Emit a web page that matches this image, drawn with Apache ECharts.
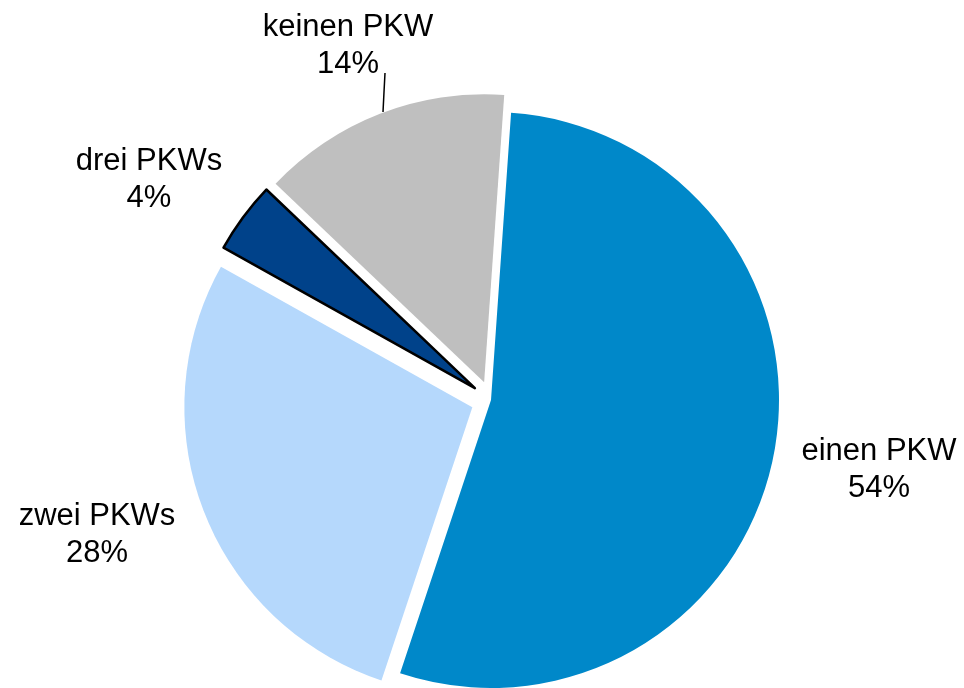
<!DOCTYPE html>
<html>
  <head>
    <meta charset="utf-8" />
    <title>PKW je Haushalt</title>
    <script src="https://cdn.jsdelivr.net/npm/echarts@6/dist/echarts.min.js"></script>
    <style>
      html, body {
        margin: 0;
        padding: 0;
        background-color: #ffffff;
      }
      #box {
        width: 964px;
        height: 688px;
      }
    </style>
  </head>
  <body>
    <div id="box"></div>
    <script>
      // Daten
      var categories = ['einen PKW', 'zwei PKWs', 'drei PKWs', 'keinen PKW'];
      var shares = [54, 28, 4, 14];

      // Darstellung
      var colors = ['#0088c9', '#b5d8fc', '#00428a', '#bfbfbf'];
      var explode = [0, 20, 20, 19];           // Versatz der Segmente in px
      var labelPos = [[879, 470], [97, 535], [149, 180], [348, 46]];
      var baseCenter = [491, 400];
      var startAngle = 86;                      // Grad, gegen den Uhrzeigersinn ab 3 Uhr

      var myChart = echarts.init(document.getElementById('box'));

      var total = shares.reduce(function (a, b) { return a + b; }, 0);

      // pro Segment eine eigene Serie, damit jedes Segment eigenständig herausgerückt wird
      var series = [];
      var cum = 0;
      categories.forEach(function (name, i) {
        var mid = (90 - startAngle) + 360 * (cum + shares[i] / 2) / total; // Grad ab 12 Uhr, im Uhrzeigersinn
        cum += shares[i];
        var rad = mid * Math.PI / 180;
        var c = [baseCenter[0] + explode[i] * Math.sin(rad), baseCenter[1] - explode[i] * Math.cos(rad)];

        var data = categories.map(function (n, j) {
          if (j !== i) {
            return {
              name: n,
              value: shares[j],
              itemStyle: { color: 'rgba(0,0,0,0)', borderWidth: 0 },
              label: { show: false },
              labelLine: { show: false }
            };
          }
          var item = {
            name: n,
            value: shares[j],
            itemStyle: { color: colors[j] },
            labelLine: { show: j === 3 }
          };
          if (j === 2) {
            item.itemStyle.borderColor = '#000';
            item.itemStyle.borderWidth = 2.5;
          }
          return item;
        });

        series.push({
          type: 'pie',
          center: c,
          radius: 288,
          startAngle: startAngle,
          clockwise: true,
          silent: true,
          emphasis: { disabled: true },
          label: {
            show: true,
            position: 'outside',
            formatter: '{b}\n{c}%',
            fontFamily: 'Liberation Sans, Arial, sans-serif',
            fontSize: 31,
            lineHeight: 37,
            color: '#000',
            overflow: 'none'
          },
          labelLine: {
            lineStyle: { color: '#000', width: 1.5 }
          },
          labelLayout: function (params) {
            var p = labelPos[params.dataIndex];
            var res = { x: p[0], y: p[1], align: 'center', verticalAlign: 'middle' };
            if (params.dataIndex === 3) {
              res.labelLinePoints = [[385, 73], [384, 92], [383, 112]];
            }
            return res;
          },
          data: data
        });
      });

      myChart.setOption({ animation: false, series: series });
    </script>
  </body>
</html>
